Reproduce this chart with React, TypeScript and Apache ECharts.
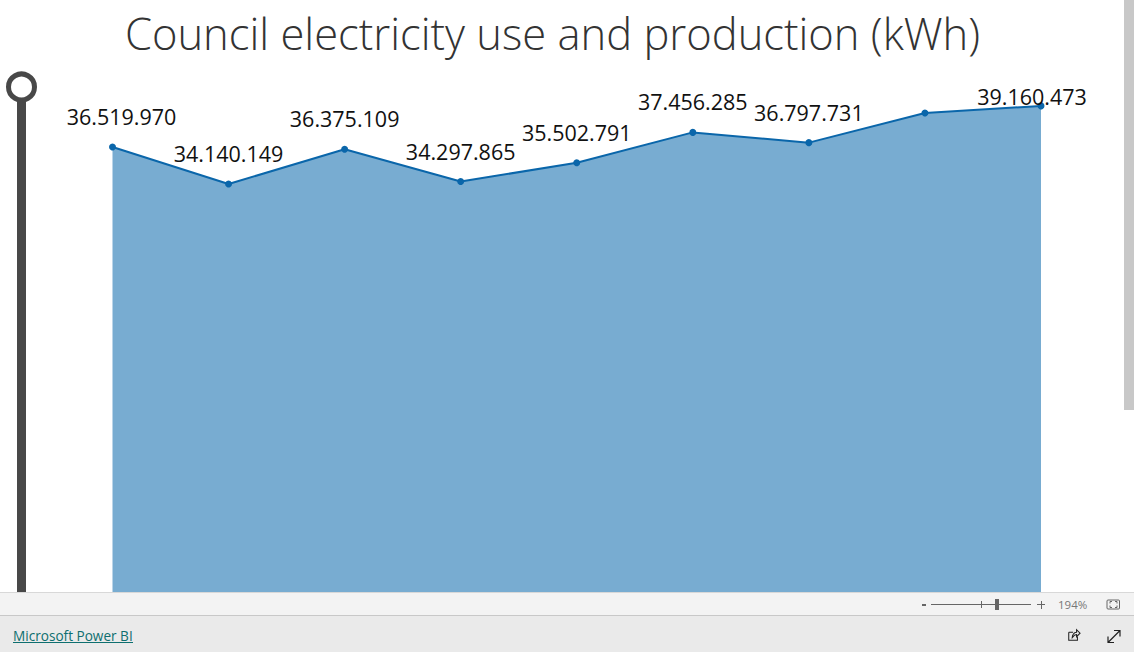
import React, { useEffect, useRef } from "react";
import * as echarts from "echarts";

const TITLE = "Council electricity use and production (kWh)";
const categories = ["P1", "P2", "P3", "P4", "P5", "P6", "P7", "P8", "P9"];
const usage = [36519970, 34140149, 36375109, 34297865, 35502791, 37456285, 36797731, 38700000, 39160473];
const hiddenLabels = ["P8"];

const formatDots = (v: number) => String(v).replace(/\B(?=(\d{3})+$)/g, ".");

const SHARE = "M2 5 H7 M2 5 V14 H12 V10 M6 11 C6 7 9 5 11 5 V2 L15 6 L11 10 V7.5 C9 7.5 7.5 9 6 11 Z";
const EXPAND = "M1 13 L13 1 M7 1 H13 V7 M1 7 V13 H7";
const FIT = "M3 5 V3 H5 M8 3 H10 V5 M10 7 V9 H8 M5 9 H3 V7";

export default function App() {
  const ref = useRef<HTMLDivElement>(null);
  useEffect(() => {
    document.body.style.margin = "0";
    document.body.style.overflow = "hidden";
    echarts.graphic.registerShape("pbiShare", echarts.graphic.extendPath(SHARE, {}) as any);
    echarts.graphic.registerShape("pbiExpand", echarts.graphic.extendPath(EXPAND, {}) as any);
    echarts.graphic.registerShape("pbiFit", echarts.graphic.extendPath(FIT, {}) as any);
    const chart = echarts.init(ref.current!, undefined, { renderer: "svg" });
    const font = "'Open Sans', 'Noto Sans', sans-serif";
    chart.setOption({
      animation: false,
      backgroundColor: "#ffffff",
      title: {
        text: TITLE,
        left: 547.5,
        top: 6,
        textAlign: "center",
        textStyle: { fontFamily: font, fontWeight: 300, fontSize: 43.5, color: "#333333" },
      },
      grid: { left: 112.5, right: 93, top: 72, bottom: 60 },
      xAxis: { type: "category", data: categories, boundaryGap: false, show: false },
      yAxis: { type: "value", min: 7900000, max: 41340000, show: false },
      series: [
        {
          type: "line",
          symbol: "circle",
          symbolSize: 7,
          z: 3,
          lineStyle: { color: "#0a66aa", width: 2 },
          itemStyle: { color: "#0a66aa" },
          areaStyle: { color: "#78acd1", opacity: 1, origin: "start" },
          data: usage.map((value, i) => ({
            value,
            label: {
              show: !hiddenLabels.includes(categories[i]),
              position: "top",
              distance: 16,
              offset: i === 0 ? [9, 0] : i === usage.length - 1 ? [-9, 21] : [0, 0],
              formatter: () => formatDots(value),
              fontFamily: font,
              fontSize: 21.5,
              color: "#111111",
            },
          })),
        },
      ],
      graphic: [
        { type: "rect", shape: { x: 17, y: 98, width: 9, height: 494 }, style: { fill: "#484848" }, z: 10 },
        { type: "circle", shape: { cx: 21.5, cy: 87, r: 13 }, style: { fill: "#ffffff", stroke: "#484848", lineWidth: 5 }, z: 11 },
        { type: "rect", shape: { x: 1124, y: 0, width: 10, height: 410 }, style: { fill: "#c8c8c8" }, z: 10 },
        { type: "rect", shape: { x: 0, y: 592, width: 1134, height: 24 }, style: { fill: "#f3f3f3" }, z: 20 },
        { type: "rect", shape: { x: 0, y: 592, width: 1134, height: 1 }, style: { fill: "#d8d8d8" }, z: 21 },
        { type: "rect", shape: { x: 0, y: 616, width: 1134, height: 36 }, style: { fill: "#eaeaea" }, z: 20 },
        { type: "rect", shape: { x: 0, y: 615, width: 1134, height: 1 }, style: { fill: "#c8c8c8" }, z: 21 },
        { type: "rect", shape: { x: 922, y: 604, width: 4, height: 2 }, style: { fill: "#666666" }, z: 22 },
        { type: "rect", shape: { x: 931, y: 604, width: 100, height: 1 }, style: { fill: "#666666" }, z: 22 },
        { type: "rect", shape: { x: 981, y: 601, width: 1, height: 7 }, style: { fill: "#666666" }, z: 22 },
        { type: "rect", shape: { x: 995, y: 599, width: 4, height: 11 }, style: { fill: "#666666" }, z: 22 },
        { type: "rect", shape: { x: 1037, y: 604, width: 8, height: 1 }, style: { fill: "#666666" }, z: 22 },
        { type: "rect", shape: { x: 1041, y: 601, width: 1, height: 8 }, style: { fill: "#666666" }, z: 22 },
        {
          type: "text", x: 1058, y: 598, z: 22,
          style: { text: "194%", fontFamily: font, fontSize: 11.5, fill: "#777777" },
        },
        { type: "rect", shape: { x: 1107, y: 600, width: 12.5, height: 9, r: 1 }, style: { fill: "none", stroke: "#666666", lineWidth: 1 }, z: 22 },
        { type: "pbiFit", x: 1107, y: 598.5, style: { fill: "none", stroke: "#666666", lineWidth: 1 }, z: 22 },
        {
          type: "text", x: 13, y: 628, z: 22,
          style: { text: "Microsoft Power BI", fontFamily: font, fontSize: 13.6, fill: "#0e6f6f" },
        },
        { type: "rect", shape: { x: 13, y: 642, width: 120, height: 1 }, style: { fill: "#0e6f6f" }, z: 22 },
        { type: "pbiShare", x: 1067, y: 628, scaleX: 0.87, scaleY: 0.87, style: { fill: "none", stroke: "#222222", lineWidth: 1.2 }, z: 22 },
        { type: "pbiExpand", x: 1107, y: 629.5, style: { fill: "none", stroke: "#222222", lineWidth: 1.2 }, z: 22 },
      ],
    });
    return () => chart.dispose();
  }, []);
  return <div ref={ref} style={{ width: 1134, height: 652 }} />;
}
